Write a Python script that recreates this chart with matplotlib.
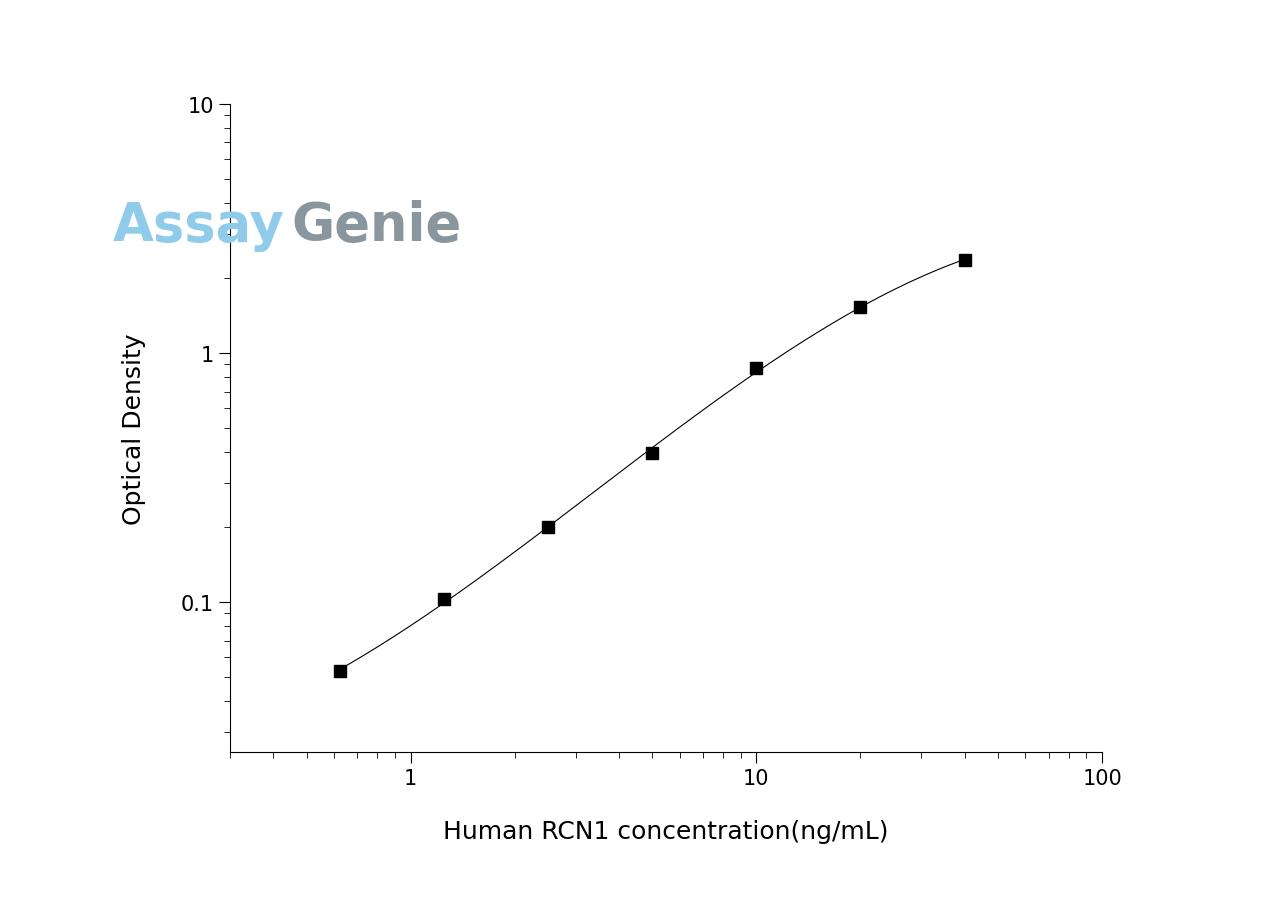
import numpy as np
import matplotlib
matplotlib.use("Agg")
import matplotlib.pyplot as plt
from matplotlib.ticker import LogLocator, NullFormatter, FixedLocator, FixedFormatter

conc = [0.625, 1.25, 2.5, 5, 10, 20, 40]
od = [0.053, 0.103, 0.200, 0.396, 0.87, 1.53, 2.36]

fig = plt.figure(figsize=(12.8, 9.04), dpi=100)
ax = fig.add_axes([0.1797, 0.167, 0.861 - 0.1797, 0.884 - 0.167])
ax.set_xscale('log'); ax.set_yscale('log')
ax.set_xlim(0.3, 100); ax.set_ylim(0.025, 10)

lx, ly = np.log10(conc), np.log10(od)
c = np.polyfit(lx, ly, 3)
xs = np.linspace(lx[0], lx[-1], 300)
ax.plot(10**xs, 10**np.polyval(c, xs), color='black', lw=0.8)
ax.plot(conc, od, 's', color='black', ms=8)

for s in ['top', 'right']:
    ax.spines[s].set_visible(False)
ax.xaxis.set_major_locator(FixedLocator([1, 10, 100]))
ax.xaxis.set_major_formatter(FixedFormatter(['1', '10', '100']))
ax.yaxis.set_major_locator(FixedLocator([0.1, 1, 10]))
ax.yaxis.set_major_formatter(FixedFormatter(['0.1', '1', '10']))
ax.xaxis.set_minor_locator(LogLocator(base=10, subs=np.arange(2, 10)))
ax.yaxis.set_minor_locator(LogLocator(base=10, subs=np.arange(2, 10)))
ax.xaxis.set_minor_formatter(NullFormatter()); ax.yaxis.set_minor_formatter(NullFormatter())
ax.tick_params(which='major', direction='out', length=8, labelsize=15)
ax.tick_params(which='minor', direction='out', length=4)
ax.set_xlabel('Human RCN1 concentration(ng/mL)', fontsize=18, labelpad=22)
ax.set_ylabel('Optical Density', fontsize=18, labelpad=25)

fig.text(0.088, 0.75, 'Assay', fontsize=38, color='#8fcbeb', fontweight='bold', va='center')
fig.text(0.228, 0.75, 'Genie', fontsize=38, color='#8a969e', fontweight='bold', va='center')
fig.savefig('out.png', dpi=100)
